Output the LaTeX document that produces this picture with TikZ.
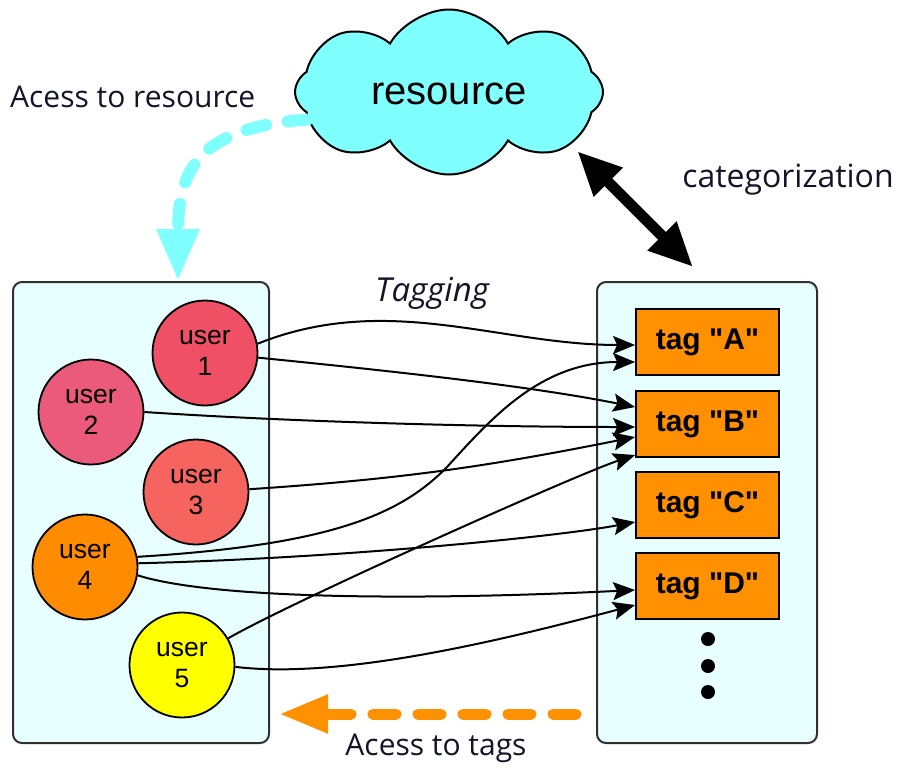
\documentclass[tikz,border=0pt]{standalone}
\usepackage{fontspec}
\setmainfont{Liberation Sans}
\newfontfamily\arialfont{Liberation Sans}
\newfontfamily\uifont{Open Sans}
\usetikzlibrary{shapes.symbols,arrows.meta}
\definecolor{boxfill}{HTML}{E8FFFF}
\definecolor{cloudfill}{HTML}{80FFFF}
\definecolor{tagfill}{HTML}{FF9000}
\definecolor{uone}{HTML}{F05066}
\definecolor{utwo}{HTML}{EB5A7A}
\definecolor{uthree}{HTML}{F5645F}
\definecolor{ufour}{HTML}{FF8C00}
\definecolor{ufive}{HTML}{FFFF00}
\definecolor{bordergray}{HTML}{303030}
\definecolor{labelink}{HTML}{141428}
\tikzset{
  panel/.style={draw=bordergray, line width=2pt, fill=boxfill, rounded corners=9pt},
  usernode/.style={circle, draw=black, line width=1.8pt, minimum size=105pt, inner sep=0pt,
     align=center, font=\arialfont\fontsize{26.5}{31}\selectfont},
  tagbox/.style={rectangle, draw=black, line width=1.8pt, fill=tagfill, minimum width=143pt,
     minimum height=66pt, inner sep=0pt, font=\arialfont\fontsize{30}{34}\selectfont\bfseries},
  dotnode/.style={circle, fill=black, minimum size=14pt, inner sep=0pt},
  tagedge/.style={line width=2pt, -{Stealth[length=22pt,width=18pt,inset=4pt]}},
  label/.style={inner sep=0pt, font=\uifont\fontsize{30}{34}\selectfont, text=labelink},
}
\begin{document}
\begin{tikzpicture}[x=1pt,y=-1pt]
\useasboundingbox (0,0) rectangle (898,769);
% panels
\node[panel, minimum width=256pt, minimum height=461pt, inner sep=0pt] (lbox) at (141,512.5) {};
\node[panel, minimum width=220pt, minimum height=461pt, inner sep=0pt] (rbox) at (707,512.5) {};
% cloud
\node[cloud, cloud puffs=8, cloud puff arc=120, cloud ignores aspect, draw=black, line width=2pt,
      fill=cloudfill, minimum width=308pt, minimum height=165pt, inner sep=0pt,
      font=\arialfont\fontsize{40}{44}\selectfont] (res) at (449,92) {\raisebox{-12pt}[0pt][0pt]{resource}};
% users
\node[usernode, fill=uone] (u1) at (205,353) {user\\1};
\node[usernode, fill=utwo] (u2) at (91,412) {user\\2};
\node[usernode, fill=uthree] (u3) at (196,492) {user\\3};
\node[usernode, fill=ufour] (u4) at (85,567) {user\\4};
\node[usernode, fill=ufive] (u5) at (182,665) {user\\5};
% tags
\node[tagbox] (tA) at (707.5,342) {tag "A"};
\node[tagbox] (tB) at (707.5,424) {tag "B"};
\node[tagbox] (tC) at (707.5,505) {tag "C"};
\node[tagbox] (tD) at (707.5,586) {tag "D"};
\node[dotnode] (d1) at (708,639) {};
\node[dotnode] (d2) at (708,666) {};
\node[dotnode] (d3) at (708,692) {};
% labels
\node[label, anchor=west] (lres) at (10,97) {Acess to resource};
\node[label, font=\uifont\fontsize{32}{36}\selectfont] (lcat) at (788,180) {categorization};
\node[label, font=\uifont\itshape\fontsize{33}{36}\selectfont] (ltag) at (432,293) {Tagging};
\node[label] (ltags) at (436,748) {Acess to tags};
% tagging edges
\draw[tagedge] (u1.10) .. controls +(130,-52) and +(-136,0) .. ([yshift=-3pt]tA.west);
\draw[tagedge] (u1.-5) .. controls +(150,15) and +(-100,-20) .. ([yshift=17pt]tB.west);
\draw[tagedge] (u2.east) .. controls +(150,10) and +(-150,0) .. ([yshift=-3pt]tB.west);
\draw[tagedge] (u3.3) .. controls +(150,-10) and +(-150,30) .. ([yshift=-13pt]tB.west);
\draw[tagedge] (u5.30) .. controls +(60,-35) and +(-60,20) .. ([yshift=-31pt]tB.west);
\draw[tagedge] (u4.11) .. controls (330,545) and (400,515) .. (447,467)
   .. controls (490,420) and (540,362) .. ([yshift=-20pt]tA.west);
\draw[tagedge] (u4.4) .. controls +(200,-5) and +(-80,15) .. ([yshift=-17pt]tC.west);
\draw[tagedge] (u4.-9) .. controls +(80,25) and +(-200,10) .. ([yshift=-4pt]tD.west);
\draw[tagedge] (u5.-2) .. controls +(100,12) and +(-150,40) .. ([yshift=-19pt]tD.west);
% categorization
\draw[line width=11pt, {Triangle[length=44pt,width=38pt]}-{Triangle[length=44pt,width=38pt]}]
  ([xshift=10pt,yshift=-4pt]res.-25) -- ([xshift=-14pt,yshift=14pt]rbox.north);
% access to resource
\draw[cloudfill, line width=12pt, line cap=round, dash pattern=on 20pt off 22pt,
      -{Triangle[length=52pt,width=40pt]}]
  (res.191) .. controls +(-110,8) and +(0,-110) .. ([xshift=37pt]lbox.north);
% access to tags
\draw[tagfill, line width=11pt, line cap=round, dash pattern=on 23pt off 22pt,
      -{Triangle[length=49pt,width=36pt]}]
  ([xshift=-20pt,yshift=30pt]rbox.south west) -- ([xshift=9pt,yshift=30pt]lbox.south east);
\end{tikzpicture}
\end{document}
